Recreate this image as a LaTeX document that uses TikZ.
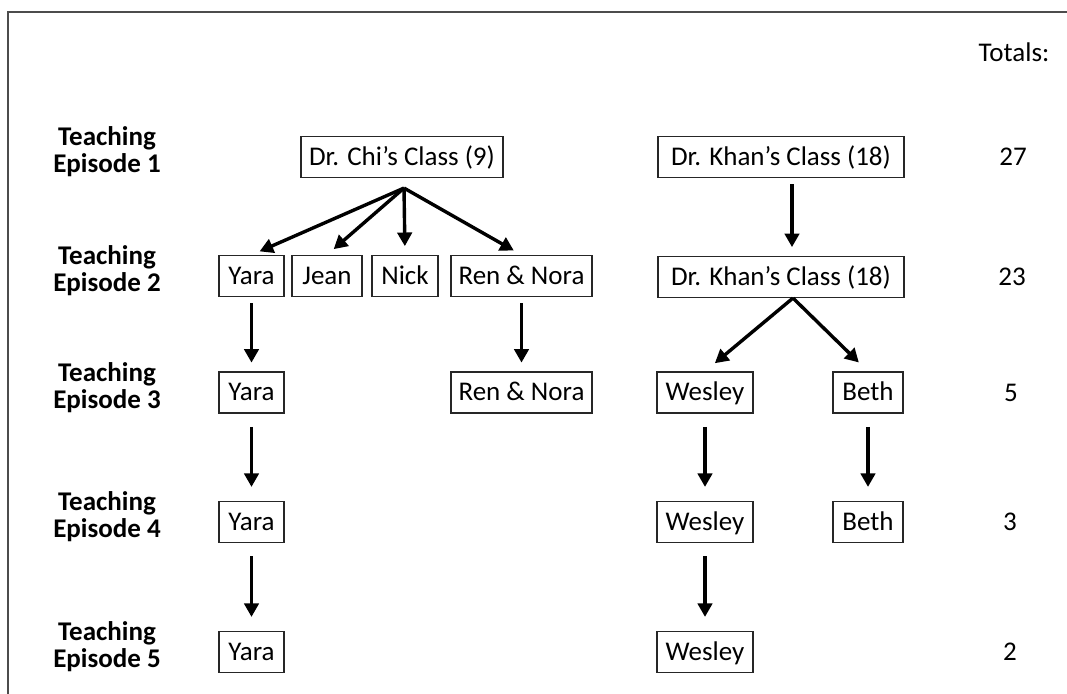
\documentclass[tikz,border=0pt]{standalone}
\usepackage{fontspec}
\setmainfont{Carlito}
\usetikzlibrary{arrows.meta,calc}
\tikzset{
  member/.style={draw=black!85,line width=0.8pt,minimum height=1.025cm,
    inner sep=0pt,text height=16pt,text depth=4pt,align=center,
    font=\fontsize{19.2}{19.2}\selectfont},
  episode/.style={align=center,font=\fontsize{19.2}{19.2}\selectfont\bfseries},
  total/.style={font=\fontsize{19.2}{19.2}\selectfont},
  flow/.style={line width=0.085cm,-{Triangle[length=0.34cm,width=0.36cm]},
    shorten <=0.15cm,shorten >=0.22cm},
  longflow/.style={flow,shorten <=0.33cm,shorten >=0.35cm}
}
\begin{document}
\begin{tikzpicture}[x=0.025cm,y=-0.025cm]
  \useasboundingbox[fill=white] (0,0) rectangle (1067,694);
  \draw[black!70,line width=0.9pt] (8,694) |- (1067,12);

  % row labels
  \node[episode] (ep1) at (107,152) {Teaching\\Episode 1};
  \node[episode] (ep2) at (107,271) {Teaching\\Episode 2};
  \node[episode] (ep3) at (107,388) {Teaching\\Episode 3};
  \node[episode] (ep4) at (107,517) {Teaching\\Episode 4};
  \node[episode] (ep5) at (107,647) {Teaching\\Episode 5};

  % classes and students
  \node[member,minimum width=5.05cm] (chi) at (402,157) {Dr. Chi’s Class (9)};
  \node[member,minimum width=6.15cm] (khan1) at (781,157) {Dr. Khan’s Class (18)};
  \node[member,minimum width=6.15cm] (khan2) at (781,277) {Dr. Khan’s Class (18)};

  \node[member,minimum width=1.625cm] (yara2) at (251.5,276) {Yara};
  \node[member,minimum width=1.75cm] (jean2) at (327,276) {Jean};
  \node[member,minimum width=1.65cm] (nick2) at (405,276) {Nick};
  \node[member,minimum width=3.525cm] (ren2) at (521.5,276) {Ren \& Nora};

  \node[member,minimum width=1.625cm] (yara3) at (251.5,392.5) {Yara};
  \node[member,minimum width=3.525cm] (ren3) at (521.5,392.5) {Ren \& Nora};
  \node[member,minimum width=2.4cm] (wes3) at (705,392.5) {Wesley};
  \node[member,minimum width=1.75cm] (beth3) at (868,392.5) {Beth};

  \node[member,minimum width=1.625cm] (yara4) at (251.5,522) {Yara};
  \node[member,minimum width=2.4cm] (wes4) at (705,522) {Wesley};
  \node[member,minimum width=1.75cm] (beth4) at (868,522) {Beth};

  \node[member,minimum width=1.625cm] (yara5) at (251.5,652) {Yara};
  \node[member,minimum width=2.4cm] (wes5) at (705,652) {Wesley};

  % totals
  \node[total] (totals) at (1014,52) {Totals:};
  \node[total] (tot1) at (1013,157) {27};
  \node[total] (tot2) at (1012,277) {23};
  \node[total] (tot3) at (1011,392.5) {5};
  \node[total] (tot4) at (1010,522) {3};
  \node[total] (tot5) at (1010,652) {2};

  % splits
  \coordinate (chifork) at ($(chi.south)+(2,10)$);
  \coordinate (khanfork) at ($(khan2.south)+(12,0)$);
  \path (chifork) edge[flow,shorten <=0pt] (yara2.north);
  \path (chifork) edge[flow,shorten <=0pt] (jean2.north);
  \path (chifork) edge[flow,shorten <=0pt] (nick2.north);
  \path (chifork) edge[flow,shorten <=0pt] (ren2.north);
  \path ($(khan1.south)+(11,0)$) edge[flow] ($(khan2.north)+(11,0)$);
  \path (khanfork) edge[flow,shorten <=0pt,shorten >=0.32cm] (wes3.north);
  \path (khanfork) edge[flow,shorten <=0pt,shorten >=0.32cm] (beth3.north);

  % continuing students
  \path (yara2) edge[flow] (yara3);
  \path (ren2) edge[flow] (ren3);
  \path (yara3) edge[longflow] (yara4);
  \path (yara4) edge[longflow] (yara5);
  \path (wes3) edge[longflow] (wes4);
  \path (wes4) edge[longflow] (wes5);
  \path (beth3) edge[longflow] (beth4);
\end{tikzpicture}
\end{document}
